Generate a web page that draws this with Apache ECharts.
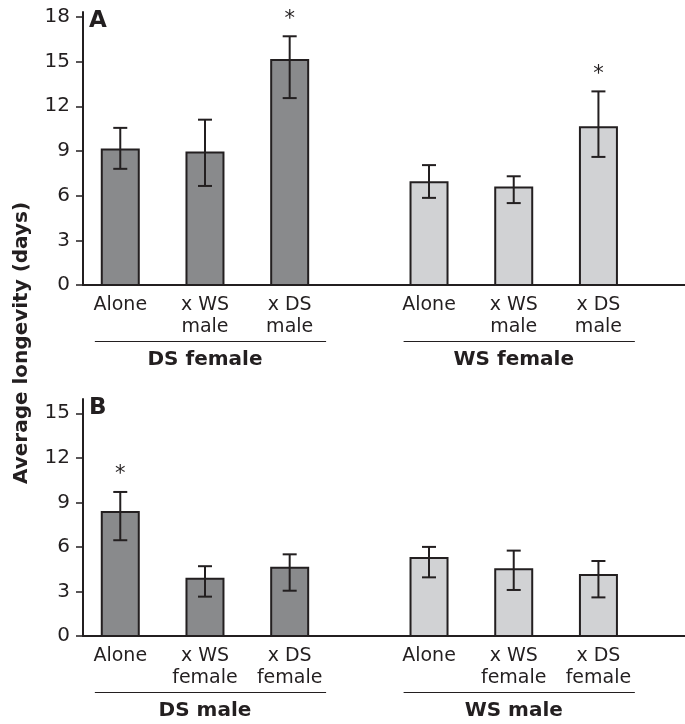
<!DOCTYPE html>
<html><head><meta charset="utf-8">
<script src="https://cdn.jsdelivr.net/npm/echarts@6/dist/echarts.min.js"></script>
<style>html,body{margin:0;padding:0;background:#fff}#c{width:685px;height:724px}</style>
</head><body><div id="c"></div>
<script>
// ---- data ----
const labelsA = ['Alone', 'x WS\nmale', 'x DS\nmale'];
const labelsB = ['Alone', 'x WS\nfemale', 'x DS\nfemale'];
const groupsA = ['DS female', 'WS female'];
const groupsB = ['DS male', 'WS male'];
const meanA_DS  = [9.1, 8.9, 15.1];
const upperA_DS = [10.55, 11.1, 16.7];
const lowerA_DS = [7.8, 6.65, 12.55];
const meanA_WS  = [6.9, 6.55, 10.6];
const upperA_WS = [8.05, 7.3, 13.0];
const lowerA_WS = [5.85, 5.5, 8.6];
const meanB_DS  = [8.35, 3.85, 4.6];
const upperB_DS = [9.7, 4.7, 5.5];
const lowerB_DS = [6.45, 2.65, 3.05];
const meanB_WS  = [5.25, 4.5, 4.1];
const upperB_WS = [6.0, 5.75, 5.05];
const lowerB_WS = [3.95, 3.1, 2.6];
const sigA_DS = [0, 0, 1];
const sigA_WS = [0, 0, 1];
const sigB_DS = [1, 0, 0];
const sigB_WS = [0, 0, 0];
const ticksA = [0, 3, 6, 9, 12, 15, 18];
const ticksB = [0, 3, 6, 9, 12, 15];
const yTitle = 'Average longevity (days)';
const panelA = 'A', panelB = 'B';

// ---- layout / style ----
const GROUP_OFFSET = 3.645;
const BAR_W = 37;
const INK = '#231f20';
const FILLS = ['#898a8c', '#d1d2d4'];
const REG = '19px "DejaVu Sans"';
const BOLD = 'bold 20px "DejaVu Sans"';

function buildData(means, uppers, lowers, sigs, g) {
  return means.map((m, i) => [i + g * GROUP_OFFSET, m, uppers[i], lowers[i], g, sigs[i], i]);
}
const dataA = buildData(meanA_DS, upperA_DS, lowerA_DS, sigA_DS, 0)
  .concat(buildData(meanA_WS, upperA_WS, lowerA_WS, sigA_WS, 1));
const dataB = buildData(meanB_DS, upperB_DS, lowerB_DS, sigB_DS, 0)
  .concat(buildData(meanB_WS, upperB_WS, lowerB_WS, sigB_WS, 1));

function makeRender(labels, groups) {
  return function (params, api) {
    const x = api.value(0), m = api.value(1), up = api.value(2), lo = api.value(3);
    const g = api.value(4), sig = api.value(5), i = api.value(6);
    const base = api.coord([x, 0]);
    const top = api.coord([x, m]);
    const pu = api.coord([x, up]);
    const pl = api.coord([x, lo]);
    const cx = base[0];
    const ch = [];
    ch.push({type: 'rect', shape: {x: cx - BAR_W / 2, y: top[1], width: BAR_W, height: base[1] - top[1]},
      style: {fill: FILLS[g], stroke: INK, lineWidth: 2}});
    ch.push({type: 'line', shape: {x1: cx, y1: pu[1], x2: cx, y2: pl[1]}, style: {stroke: INK, lineWidth: 2}});
    ch.push({type: 'line', shape: {x1: cx - 7, y1: pu[1], x2: cx + 7, y2: pu[1]}, style: {stroke: INK, lineWidth: 2}});
    ch.push({type: 'line', shape: {x1: cx - 7, y1: pl[1], x2: cx + 7, y2: pl[1]}, style: {stroke: INK, lineWidth: 2}});
    ch.push({type: 'text', x: cx, y: base[1] + 9, style: {text: labels[i], font: REG, fill: INK,
      align: 'center', verticalAlign: 'top', lineHeight: 22}});
    if (sig) {
      ch.push({type: 'text', x: cx, y: pu[1] - 17, style: {text: '*', font: '21px "DejaVu Sans"', fill: INK,
        align: 'center', verticalAlign: 'middle'}});
    }
    if (i === 1) {
      const l = api.coord([x - 1.3, 0]);
      const r = api.coord([x + 1.43, 0]);
      const ly = Math.round(base[1] + 56) + 0.5;
      ch.push({type: 'line', shape: {x1: l[0], y1: ly, x2: r[0], y2: ly},
        style: {stroke: INK, lineWidth: 1}});
      ch.push({type: 'text', x: cx, y: base[1] + 75, style: {text: groups[g], font: BOLD, fill: INK,
        align: 'center', verticalAlign: 'middle'}});
    }
    return {type: 'group', children: ch};
  };
}

const yAxisCommon = (max, ticks, gi) => ({
  type: 'value', gridIndex: gi, min: 0, max: max,
  splitLine: {show: false},
  axisLine: {show: true, onZero: false, lineStyle: {color: INK, width: 2}},
  axisTick: {show: true, length: 7, customValues: ticks, lineStyle: {color: INK, width: 1.5}},
  axisLabel: {customValues: ticks, margin: 13, color: INK, fontFamily: 'DejaVu Sans', fontSize: 20}
});
const xAxisCommon = (gi) => ({
  type: 'value', gridIndex: gi, min: -0.44, max: 6.667,
  splitLine: {show: false}, axisTick: {show: false}, axisLabel: {show: false},
  axisLine: {show: true, onZero: false, lineStyle: {color: INK, width: 2}}
});

const chart = echarts.init(document.getElementById('c'), null, {renderer: 'canvas'});
chart.setOption({
  animation: false,
  backgroundColor: '#fff',
  grid: [
    {left: 83, right: 0, top: 12, height: 273},
    {left: 83, right: 0, top: 399, height: 237}
  ],
  xAxis: [xAxisCommon(0), xAxisCommon(1)],
  yAxis: [yAxisCommon(18.33, ticksA, 0), yAxisCommon(15.96, ticksB, 1)],
  series: [
    {type: 'custom', xAxisIndex: 0, yAxisIndex: 0, clip: false, encode: {x: 0, y: 1},
      renderItem: makeRender(labelsA, groupsA), data: dataA},
    {type: 'custom', xAxisIndex: 1, yAxisIndex: 1, clip: false, encode: {x: 0, y: 1},
      renderItem: makeRender(labelsB, groupsB), data: dataB}
  ],
  graphic: [
    {type: 'text', x: 22, y: 343, rotation: Math.PI / 2,
      style: {text: yTitle, font: BOLD, fill: INK, align: 'center', verticalAlign: 'middle'}},
    {type: 'text', x: 89, y: 10, style: {text: panelA, font: 'bold 23px "DejaVu Sans"', fill: INK}},
    {type: 'text', x: 89, y: 397, style: {text: panelB, font: 'bold 23px "DejaVu Sans"', fill: INK}}
  ]
});
</script>
</body></html>
